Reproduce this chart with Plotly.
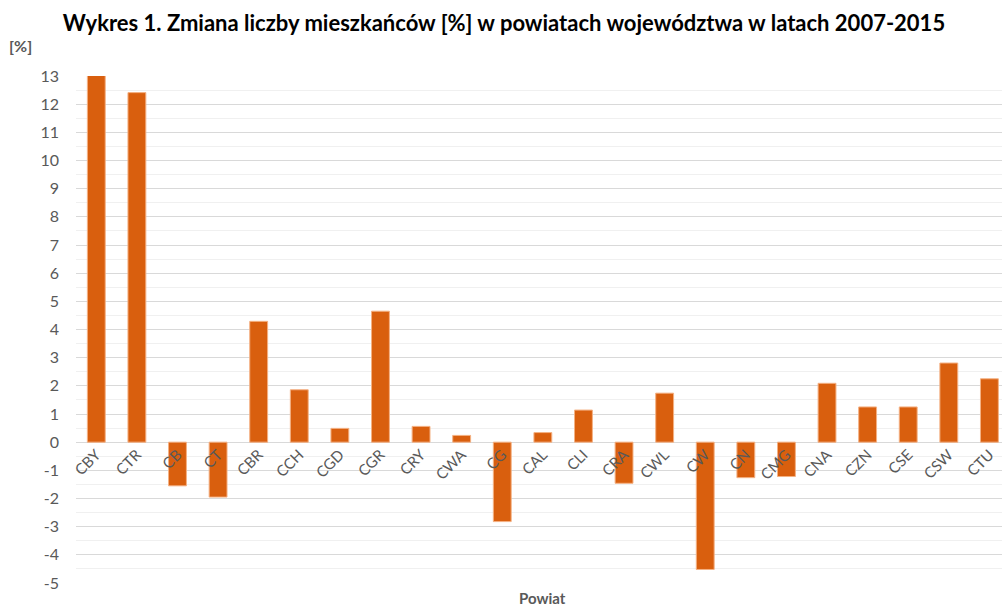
import plotly.graph_objects as go

categories = ["CBY", "CTR", "CB", "CT", "CBR", "CCH", "CGD", "CGR", "CRY", "CWA", "CG", "CAL",
              "CLI", "CRA", "CWL", "CW", "CN", "CMG", "CNA", "CZN", "CSE", "CSW", "CTU"]
values = [13.02, 12.41, -1.55, -1.95, 4.29, 1.86, 0.49, 4.65, 0.56, 0.24, -2.82, 0.34,
          1.14, -1.46, 1.74, -4.52, -1.26, -1.22, 2.09, 1.25, 1.25, 2.81, 2.25]
y_ticks = list(range(-5, 14))

title_text = "Wykres 1. Zmiana liczby mieszkańców [%] w powiatach województwa w latach 2007-2015"
y_min, y_max = -5, 13

fig = go.Figure(go.Bar(
    x=categories, y=values,
    marker=dict(color="#D95F0E", line=dict(color="#F4B183", width=1)),
))

fig.update_layout(
    width=1002, height=608,
    margin=dict(l=76, r=0, t=76, b=25),
    paper_bgcolor="white", plot_bgcolor="white",
    bargap=0.56,
    showlegend=False,
    font=dict(family="Lato, Carlito, sans-serif", color="#595959"),
    title=dict(text="<b>" + title_text + "</b>", x=0.503, xanchor="center", y=0.962, yanchor="middle",
               font=dict(size=22, color="black", family="Lato, sans-serif")),
    xaxis=dict(
        type="category", range=[-0.5, 22.31],
        anchor="free", position=(0 - y_min) / (y_max - y_min),
        tickangle=-45, tickfont=dict(size=15, color="#595959"),
        showgrid=False, showline=False, ticks="",
    ),
    yaxis=dict(
        range=[y_min, y_max], tickvals=y_ticks, ticktext=[str(v) for v in y_ticks],
        tickfont=dict(size=16, color="#595959"),
        ticklabelstandoff=16,
        showgrid=True, gridcolor="#D9D9D9", gridwidth=1,
        zeroline=True, zerolinecolor="#D9D9D9", zerolinewidth=1,
        minor=dict(dtick=0.5, tick0=0, showgrid=True, gridcolor="#F0F0F0", gridwidth=1),
        ticks="", ticklen=0, showline=False,
    ),
    annotations=[
        dict(text="<b>[%]</b>", xref="paper", yref="paper", x=-0.074, y=1.06,
             xanchor="left", yanchor="middle", showarrow=False,
             font=dict(size=16, color="#595959")),
        dict(text="<b>Powiat</b>", xref="paper", yref="paper", x=0.504, y=-0.03,
             xanchor="center", yanchor="middle", showarrow=False,
             font=dict(size=15, color="#595959")),
    ],
)

fig.write_html("out.html", config={"displayModeBar": False},
               post_script="document.body.style.margin='0';document.body.style.overflow='hidden';")
